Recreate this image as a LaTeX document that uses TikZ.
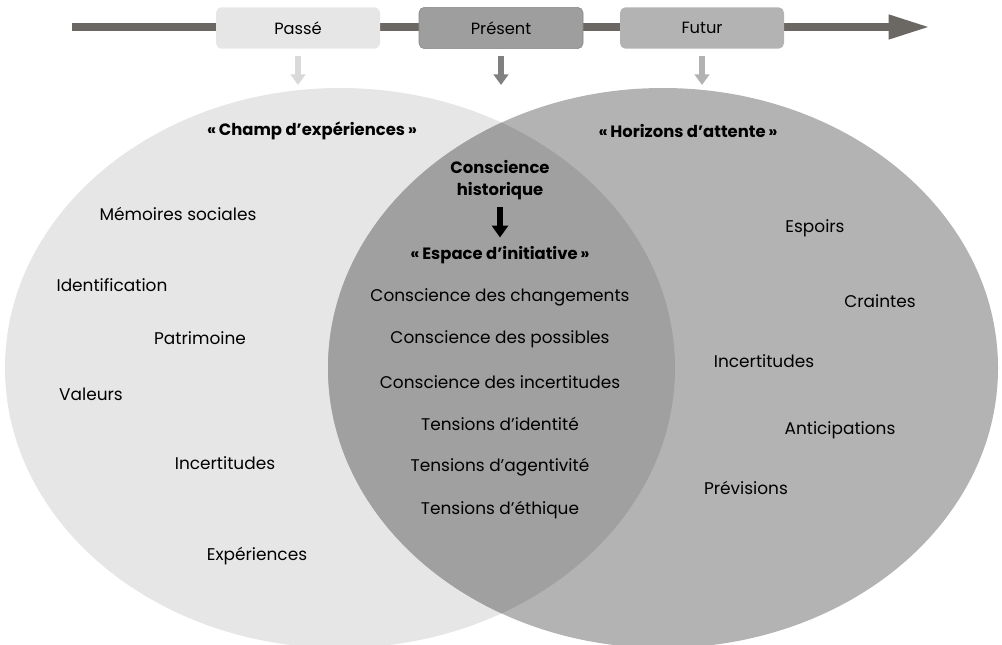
\documentclass[tikz,border=0pt]{standalone}
\usepackage{fontspec}
\setmainfont{Poppins}
\usetikzlibrary{arrows.meta}
\definecolor{passegray}{HTML}{E6E6E6}
\definecolor{presentgray}{HTML}{9E9E9E}
\definecolor{futurgray}{HTML}{B3B3B3}
\definecolor{lensgray}{HTML}{A0A0A0}
\definecolor{linegray}{HTML}{6B6762}
\tikzset{
  period/.style={rectangle,rounded corners=4pt,minimum width=123pt,minimum height=31pt,font=\fontsize{12.2}{14}\selectfont},
  item/.style={font=\fontsize{12.7}{15}\selectfont},
  title/.style={font=\bfseries\fontsize{12.3}{16.5}\selectfont},
  downarrow/.style={line width=4pt,-{Triangle[width=11pt,length=8pt]}}
}
\begin{document}
\begin{tikzpicture}[x=0.75pt,y=-0.75pt]
    \useasboundingbox (0,0) rectangle (1002,645);
    % Circles
    \fill[passegray] (340,368) ellipse [x radius=335,y radius=280];
    \fill[futurgray] (663,368) ellipse [x radius=335,y radius=280];
    \begin{scope}
        \clip (340,368) ellipse [x radius=335,y radius=280];
        \fill[lensgray] (663,368) ellipse [x radius=335,y radius=280];
    \end{scope}
    
    % Timeline
    \coordinate (tstart) at (72,27);
    \coordinate (tend) at (930,27);
    \draw[linegray,line width=6pt,-{Triangle[width=17pt,length=31pt]}] (tstart) -- (tend);
    \node[period,fill=passegray] (passe) at (298,28) {Passé};
    \node[period,fill=presentgray,draw=presentgray!85!black,line width=0.4pt] (present) at (501,28) {Présent};
    \node[period,fill=futurgray] (futur) at (702,28) {Futur};
    
    % Arrows to the circles
    \coordinate (passeend) at (298,85);
    \coordinate (presentend) at (501,85);
    \coordinate (futurend) at (702,85);
    \draw[downarrow,color=black!15,shorten <=5pt] (passe) -- (passeend);
    \draw[downarrow,color=black!50,shorten <=5pt] (present) -- (presentend);
    \draw[downarrow,color=black!30,shorten <=5pt] (futur) -- (futurend);
    
    % Champ d'expériences
    \node[title] (champ) at (312,131) {«\,Champ d’expériences\,»};
    \node[item] (memoires) at (178,214) {Mémoires sociales};
    \node[item] (identification) at (112,285) {Identification};
    \node[item] (patrimoine) at (200,338) {Patrimoine};
    \node[item] (valeurs) at (91,394) {Valeurs};
    \node[item] (incertL) at (225,463) {Incertitudes};
    \node[item] (experiences) at (257,556) {Expériences};
    
    % Horizons d'attente
    \node[title] (horizons) at (688,131) {«\,Horizons d’attente\,»};
    \node[item] (espoirs) at (815,228) {Espoirs};
    \node[item] (craintes) at (880,301) {Craintes};
    \node[item] (incertR) at (764,361) {Incertitudes};
    \node[item] (anticipations) at (840,430) {Anticipations};
    \node[item] (previsions) at (746,488) {Prévisions};
    
    % Espace d'initiative
    \node[title,align=center] (historique) at (500,180) {Conscience\\historique};
    \node[title] (espace) at (500,255) {«\,Espace d’initiative\,»};
    \draw[line width=5pt,-{Triangle[width=12pt,length=9pt]},shorten <=2pt,shorten >=3pt] (historique) -- (espace);
    \node[item] (changements) at (500,297) {Conscience des changements};
    \node[item] (possibles) at (500,339) {Conscience des possibles};
    \node[item] (incertitudes) at (500,382) {Conscience des incertitudes};
    \node[item] (identite) at (500,424) {Tensions d’identité};
    \node[item] (agentivite) at (500,467) {Tensions d’agentivité};
    \node[item] (ethique) at (500,510) {Tensions d’éthique};
\end{tikzpicture}
\end{document}
